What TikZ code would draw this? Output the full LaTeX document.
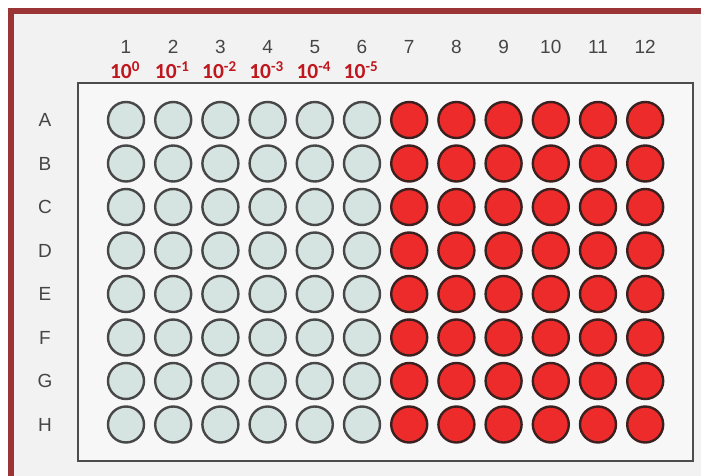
\documentclass[tikz,border=0pt]{standalone}
\usepackage{fontspec}
\setmainfont{Liberation Sans}
\newfontfamily\dilfont{Carlito}
\usepackage{tikz}
\usetikzlibrary{positioning}
\definecolor{framered}{HTML}{9B3434}
\definecolor{platebg}{HTML}{F2F2F2}
\definecolor{wellpale}{HTML}{D5E3E1}
\definecolor{wellred}{HTML}{EE2B2B}
\definecolor{wellrim}{HTML}{3B2020}
\definecolor{dilred}{HTML}{C0171E}
\definecolor{labelgray}{HTML}{454545}
\tikzset{
    every node/.style={font=\fontsize{19}{22}\selectfont},
    emptywell/.style={circle,draw=black!72,line width=2.4pt,fill=wellpale,minimum size=36pt,inner sep=0pt},
    fullwell/.style={circle,draw=wellrim,line width=2.4pt,fill=wellred,minimum size=36pt,inner sep=0pt},
    collabel/.style={text=labelgray},
    rowlabel/.style={text=labelgray},
    dilution/.style={text=dilred,inner sep=0pt,font=\dilfont\fontsize{21.5}{24}\selectfont\bfseries},
    plate/.style={draw=black!70,line width=2pt,fill=platebg!60!white}
}
\begin{document}
\begin{tikzpicture}[x=1pt,y=-1pt]
% frame and background
\fill[white] (0,0) rectangle (701,476);
\fill[framered] (8,8) rectangle (701,476);
\fill[platebg] (14,14) rectangle (701,476);
\useasboundingbox (0,0) rectangle (701,476);

% plate
\draw[plate] (78,83) rectangle (693,461);

% column numbers and dilutions
\foreach \c in {1,...,12}
  \node[collabel] (col\c) at ({126+47.2*(\c-1)},47) {\c};
\foreach \c/\e in {1/0,2/-1,3/-2,4/-3,5/-4,6/-5}
  \node[dilution] (dil\c) at ({125+47.2*(\c-1)},70) {10\textsuperscript{\e}};

% rows of wells
\foreach \r [count=\i from 0] in {A,B,C,D,E,F,G,H} {
  \node[rowlabel] (row\r) at (45,{120+43.5*\i}) {\r};
  \foreach \c in {1,...,6}
    \node[emptywell] (\r\c) at ({126+47.2*(\c-1)},{120+43.5*\i}) {};
  \foreach \c in {7,...,12}
    \node[fullwell] (\r\c) at ({126+47.2*(\c-1)},{120+43.5*\i}) {};
}
\end{tikzpicture}
\end{document}
